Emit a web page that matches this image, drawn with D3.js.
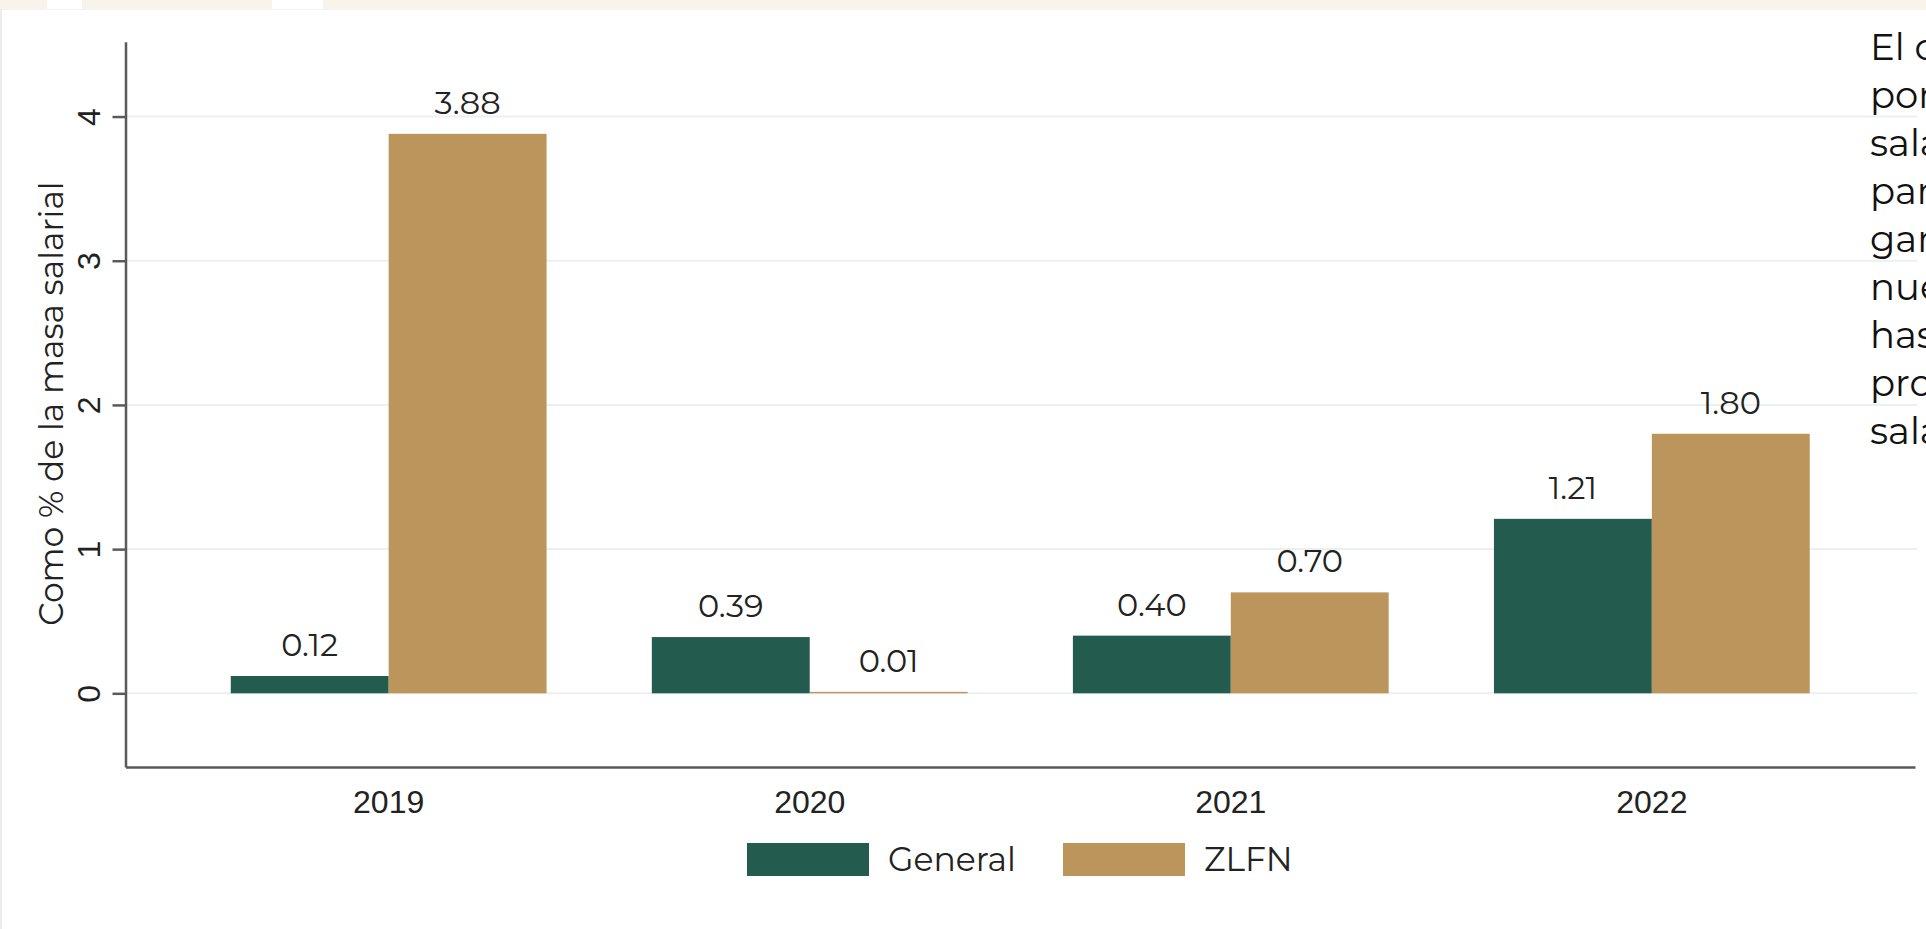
<!DOCTYPE html>
<html lang="es">
<head>
<meta charset="UTF-8">
<title>Como % de la masa salarial</title>
<script src="https://d3js.org/d3.v7.min.js"></script>
<style>
    body { margin: 0; background: #fff; }
    svg { display: block; font-family: "Montserrat", "Noto Sans", sans-serif; }
    .grid line { stroke: #e9f1f3; stroke-width: 2px; }
    .axis path, .axis line { stroke: #5a5a5a; stroke-width: 2.5px; }
    .axis text { fill: #222; font-size: 32px; }
    .value { fill: #222; font-size: 32px; text-anchor: middle; }
    .legend text { fill: #222; font-size: 33px; }
    .side text { fill: #111; font-size: 37px; }
</style>
</head>
<body>
<svg id="chart"></svg>
<script>
    // data
    const years = ["2019", "2020", "2021", "2022"];
    const series = ["General", "ZLFN"];
    const general = [0.12, 0.39, 0.40, 1.21];
    const zlfn = [3.88, 0.01, 0.70, 1.80];
    const yTicks = [0, 1, 2, 3, 4];
    const colors = ["#235B4E", "#BC955C"];
    // text from the next column of the page, cut at the edge
    const sideLines = ["El c", "por", "sala", "par", "gar", "nue", "has", "pro", "sala"];

    const W = 1926, H = 929;
    const plot = { left: 125.5, right: 1915, top: 41.7, bottom: 767 };

    const svg = d3.select("#chart").attr("width", W).attr("height", H);

    // page bits: cream strip at the top and faint frame
    svg.append("rect").attr("x", 0).attr("y", 0).attr("width", W).attr("height", 9).attr("fill", "#f8f4ec");
    svg.append("rect").attr("x", 47).attr("y", 0).attr("width", 35).attr("height", 9).attr("fill", "#fff");
    svg.append("rect").attr("x", 272).attr("y", 0).attr("width", 51).attr("height", 9).attr("fill", "#fff");
    svg.append("line").attr("x1", 0).attr("x2", W).attr("y1", 9.5).attr("y2", 9.5).attr("stroke", "#f3f3f3");
    svg.append("line").attr("x1", 1).attr("x2", 1).attr("y1", 9).attr("y2", H).attr("stroke", "#ececec").attr("stroke-width", 2);

    const y = d3.scaleLinear().domain([-0.511, 4.519]).range([plot.bottom, plot.top]);
    const x = d3.scaleBand().domain(years).range([plot.left, plot.right]).padding(0.25);
    const xs = d3.scaleBand().domain(series).range([0, x.bandwidth()]);

    // gridlines
    svg.append("g").attr("class", "grid")
        .selectAll("line").data(yTicks).join("line")
        .attr("x1", plot.left).attr("x2", plot.right + 2)
        .attr("y1", d => y(d)).attr("y2", d => y(d));

    // bars
    const rows = years.map((yr, i) => ({ year: yr, values: [general[i], zlfn[i]] }));
    const groups = svg.append("g").selectAll("g").data(rows).join("g")
        .attr("transform", d => `translate(${x(d.year)},0)`);

    groups.selectAll("rect").data(d => d.values.map((v, j) => ({ key: series[j], v, j })))
        .join("rect")
        .attr("x", d => xs(d.key))
        .attr("width", xs.bandwidth())
        .attr("y", d => y(d.v))
        .attr("height", d => y(0) - y(d.v))
        .attr("fill", d => colors[d.j]);

    groups.selectAll("text").data(d => d.values.map((v, j) => ({ key: series[j], v })))
        .join("text")
        .attr("class", "value")
        .attr("x", d => xs(d.key) + xs.bandwidth() / 2)
        .attr("y", d => y(d.v) - 20)
        .text(d => d3.format(".2f")(d.v));

    // y axis
    const yAxis = svg.append("g").attr("class", "axis")
        .attr("transform", `translate(${plot.left},0)`)
        .call(d3.axisLeft(y).tickValues(yTicks).tickSize(13).tickSizeOuter(0).tickFormat(d3.format("d")));
    yAxis.selectAll("text")
        .attr("x", null).attr("dy", null)
        .attr("text-anchor", "middle")
        .attr("transform", "translate(-26,0) rotate(-90)");

    // x axis
    const xAxis = svg.append("g").attr("class", "axis")
        .attr("transform", `translate(0,${plot.bottom})`)
        .call(d3.axisBottom(x).tickSize(0).tickSizeOuter(0));
    xAxis.selectAll("text").attr("y", 46).attr("dy", null);

    // y title
    svg.append("text")
        .attr("transform", `translate(63,${(190 + 617) / 2}) rotate(-90)`)
        .attr("text-anchor", "middle")
        .attr("font-size", 33)
        .attr("fill", "#222")
        .text("Como % de la masa salarial");

    // legend
    const legend = svg.append("g").attr("class", "legend")
        .selectAll("g").data(series).join("g")
        .attr("transform", (d, i) => `translate(${747 + i * 316},843)`);
    legend.append("rect").attr("width", 122).attr("height", 33).attr("fill", (d, i) => colors[i]);
    legend.append("text").attr("x", 141).attr("y", 28).text(d => d);

    // side column text
    svg.append("g").attr("class", "side")
        .selectAll("text").data(sideLines).join("text")
        .attr("x", 1870)
        .attr("y", (d, i) => 60 + i * 48)
        .text(d => d);
</script>
</body>
</html>
